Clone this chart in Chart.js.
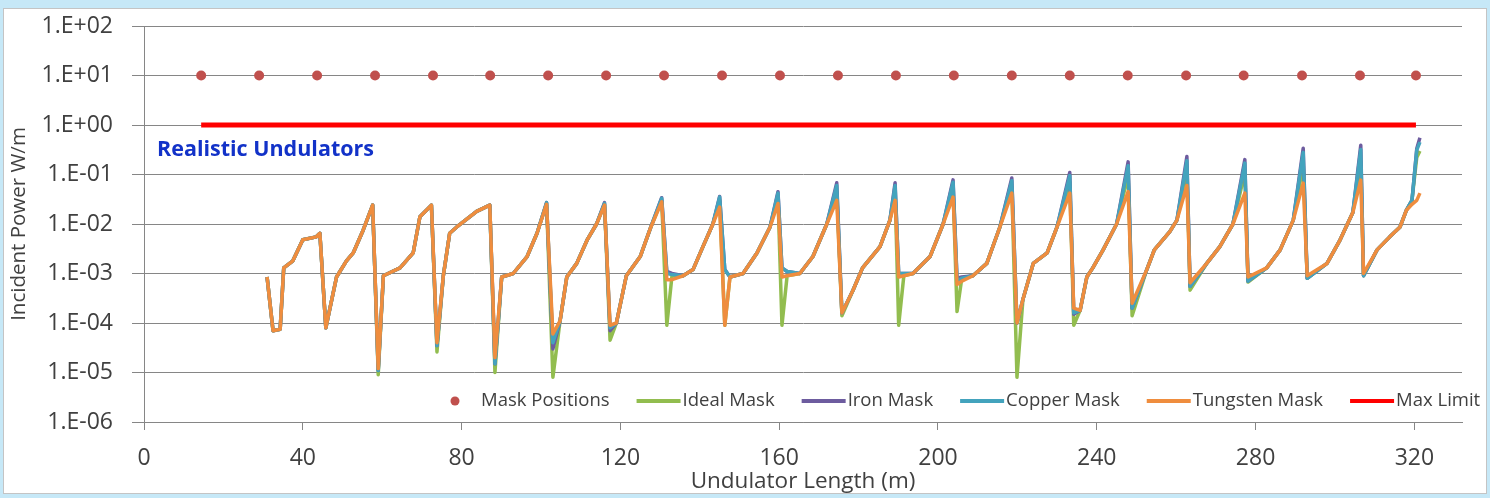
<!DOCTYPE html>
<html>
<head>
<meta charset="utf-8">
<title>Incident Power - Realistic Undulators</title>
<script src="https://cdn.jsdelivr.net/npm/chart.js@4.4.1/dist/chart.umd.min.js"></script>
<style>
  html, body { margin: 0; padding: 0; }
  body { width: 1490px; height: 498px; background: #c6e8f7; position: relative; overflow: hidden; }
  #frame { position: absolute; left: 3px; top: 8px; width: 1482px; height: 484px; background: #fff; border: 1px solid #c4c4c4; }
  #wrap { position: absolute; left: 0; top: 0; width: 1490px; height: 498px; }
</style>
</head>
<body>
<div id="frame"></div>
<div id="wrap"><canvas id="chart"></canvas></div>
<script>
// undulator length (m) shared by the four mask curves
const lengths = [
  31.0, 32.5, 34.3, 35.2, 37.5, 40.0, 43.4, 44.3, 45.8, 48.5,
  51.0, 52.7, 55.2, 57.6, 59.0, 60.3, 64.5, 67.8, 69.5, 72.4,
  73.8, 75.4, 77.0, 78.8, 83.8, 87.1, 88.4, 90.1, 93.0, 96.5,
  99.0, 101.4, 103.0, 104.8, 106.5, 109.0, 111.6, 114.0, 116.0, 117.4,
  119.0, 121.5, 125.0, 127.5, 130.4, 131.7, 133.0, 135.8, 138.3, 140.8, 143.3,
  145.0, 146.3, 147.6, 150.9, 154.4, 157.7, 159.7, 160.7, 162.0, 165.2, 168.5,
  172.0, 174.5, 175.8, 178.6, 181.0, 185.4, 187.9, 189.2, 190.1, 191.4, 193.7,
  198.0, 201.3, 203.8, 204.8, 206.0, 208.8, 212.3, 215.6, 218.6, 219.9, 221.4,
  224.0, 227.5, 230.0, 233.2, 234.2, 235.8, 237.5, 239.0, 241.6, 245.0,
  247.9, 248.9, 252.6, 254.5, 258.4, 260.2, 262.7, 263.5, 267.7, 271.0,
  274.3, 277.3, 278.1, 282.8, 286.2, 289.5, 292.0, 293.0, 298.0, 301.3,
  304.5, 306.5, 307.2, 310.6, 313.8, 316.4, 318.0, 319.4, 320.6, 321.4
];

const idealMask = [
  8.5e-4, 7e-5, 7.5e-5, 1.3e-3, 1.8e-3, 4.8e-3, 5.5e-3, 6.5e-3, 8e-5, 8.5e-4,
  1.8e-3, 2.6e-3, 7.5e-3, 2.4e-2, 9e-6, 9e-4, 1.3e-3, 2.6e-3, 1.4e-2, 2.4e-2,
  2.6e-5, 9e-4, 6.5e-3, 8.7e-3, 1.8e-2, 2.4e-2, 1e-5, 8.5e-4, 1e-3, 2.2e-3,
  6.5e-3, 2.6e-2, 8e-6, 1.1e-4, 8.5e-4, 1.6e-3, 4.7e-3, 1e-2, 2.5e-2, 4.5e-5,
  1e-4, 9e-4, 2.2e-3, 8e-3, 3e-2, 9e-5, 9e-4, 9e-4, 1.2e-3, 3.5e-3, 1e-2,
  3e-2, 9e-5, 8.5e-4, 1e-3, 2.6e-3, 8.7e-3, 3.5e-2, 9e-5, 9e-4, 1e-3, 2.2e-3,
  1e-2, 4.5e-2, 1.4e-4, 4.6e-4, 1.3e-3, 3.5e-3, 1.2e-2, 4.5e-2, 9e-5, 9e-4, 1e-3,
  2.2e-3, 1e-2, 5e-2, 1.7e-4, 8e-4, 9e-4, 1.6e-3, 8.7e-3, 5.5e-2, 8e-6, 3e-4,
  1.6e-3, 2.6e-3, 8.7e-3, 7e-2, 9e-5, 1.8e-4, 8.5e-4, 1.3e-3, 3e-3, 1e-2,
  1e-1, 1.4e-4, 1.2e-3, 3e-3, 7e-3, 1.2e-2, 1.2e-1, 4.6e-4, 1.6e-3, 3.5e-3,
  1e-2, 1.1e-1, 6.7e-4, 1.3e-3, 3e-3, 1.2e-2, 1.6e-1, 8e-4, 1.6e-3, 4.8e-3,
  1.7e-2, 1.8e-1, 9e-4, 3e-3, 5.5e-3, 8.7e-3, 1.9e-2, 3e-2, 2.2e-1, 3e-1
];

const ironMask = [
  8.5e-4, 7e-5, 7.5e-5, 1.3e-3, 1.8e-3, 4.8e-3, 5.5e-3, 6.5e-3, 8e-5, 8.5e-4,
  1.8e-3, 2.6e-3, 7.5e-3, 2.4e-2, 1.1e-5, 9e-4, 1.3e-3, 2.6e-3, 1.4e-2, 2.4e-2,
  3.5e-5, 9e-4, 6.5e-3, 8.7e-3, 1.8e-2, 2.4e-2, 1.5e-5, 8.5e-4, 1e-3, 2.2e-3,
  6.5e-3, 2.7e-2, 3e-5, 1.1e-4, 8.5e-4, 1.6e-3, 4.7e-3, 1e-2, 2.7e-2, 7e-5,
  1e-4, 9e-4, 2.2e-3, 8e-3, 3.4e-2, 1.1e-3, 1e-3, 9e-4, 1.2e-3, 3.5e-3, 1e-2,
  3.6e-2, 1.2e-3, 8.5e-4, 1e-3, 2.6e-3, 8.7e-3, 4.5e-2, 1.3e-3, 1.1e-3, 1e-3, 2.2e-3,
  1e-2, 6.8e-2, 1.6e-4, 4.6e-4, 1.3e-3, 3.5e-3, 1.2e-2, 6.8e-2, 1e-3, 1e-3, 1e-3,
  2.2e-3, 1e-2, 7.8e-2, 8e-4, 8.5e-4, 9e-4, 1.6e-3, 8.7e-3, 8.5e-2, 1e-4, 3e-4,
  1.6e-3, 2.6e-3, 8.7e-3, 1.1e-1, 1.5e-4, 1.8e-4, 8.5e-4, 1.3e-3, 3e-3, 1e-2,
  1.8e-1, 2e-4, 1.2e-3, 3e-3, 7e-3, 1.2e-2, 2.3e-1, 5.5e-4, 1.6e-3, 3.5e-3,
  1e-2, 2e-1, 7e-4, 1.3e-3, 3e-3, 1.2e-2, 3.4e-1, 8e-4, 1.6e-3, 4.8e-3,
  1.7e-2, 3.9e-1, 9e-4, 3e-3, 5.5e-3, 8.7e-3, 1.9e-2, 3e-2, 3.3e-1, 5.5e-1
];

const copperMask = [
  8.5e-4, 7e-5, 7.5e-5, 1.3e-3, 1.8e-3, 4.8e-3, 5.5e-3, 6.5e-3, 8e-5, 8.5e-4,
  1.8e-3, 2.6e-3, 7.5e-3, 2.4e-2, 1.1e-5, 9e-4, 1.3e-3, 2.6e-3, 1.4e-2, 2.4e-2,
  3.5e-5, 9e-4, 6.5e-3, 8.7e-3, 1.8e-2, 2.4e-2, 1.5e-5, 8.5e-4, 1e-3, 2.2e-3,
  6.5e-3, 2.7e-2, 4e-5, 1.1e-4, 8.5e-4, 1.6e-3, 4.7e-3, 1e-2, 2.6e-2, 8e-5,
  1e-4, 9e-4, 2.2e-3, 8e-3, 3.3e-2, 1e-3, 9.5e-4, 9e-4, 1.2e-3, 3.5e-3, 1e-2,
  3.5e-2, 1.2e-3, 8.5e-4, 1e-3, 2.6e-3, 8.7e-3, 4.2e-2, 1.3e-3, 1.1e-3, 1e-3, 2.2e-3,
  1e-2, 6e-2, 1.6e-4, 4.6e-4, 1.3e-3, 3.5e-3, 1.2e-2, 6e-2, 1e-3, 1e-3, 1e-3,
  2.2e-3, 1e-2, 7e-2, 7e-4, 8e-4, 9e-4, 1.6e-3, 8.7e-3, 7.5e-2, 1e-4, 3e-4,
  1.6e-3, 2.6e-3, 8.7e-3, 9.5e-2, 1.6e-4, 1.8e-4, 8.5e-4, 1.3e-3, 3e-3, 1e-2,
  1.5e-1, 2e-4, 1.2e-3, 3e-3, 7e-3, 1.2e-2, 1.9e-1, 5.5e-4, 1.6e-3, 3.5e-3,
  1e-2, 1.7e-1, 7e-4, 1.3e-3, 3e-3, 1.2e-2, 2.8e-1, 8e-4, 1.6e-3, 4.8e-3,
  1.7e-2, 3.2e-1, 9e-4, 3e-3, 5.5e-3, 8.7e-3, 1.9e-2, 3e-2, 3.1e-1, 4.5e-1
];

const tungstenMask = [
  8.5e-4, 7e-5, 7.5e-5, 1.3e-3, 1.8e-3, 4.8e-3, 5.5e-3, 6.5e-3, 8e-5, 8.5e-4,
  1.8e-3, 2.6e-3, 7.5e-3, 2.4e-2, 1.2e-5, 9e-4, 1.3e-3, 2.6e-3, 1.4e-2, 2.4e-2,
  4e-5, 9e-4, 6.5e-3, 8.7e-3, 1.8e-2, 2.4e-2, 2e-5, 8.5e-4, 1e-3, 2.2e-3,
  6.5e-3, 2.5e-2, 6e-5, 1.1e-4, 8.5e-4, 1.6e-3, 4.7e-3, 1e-2, 2.4e-2, 9e-5,
  1e-4, 9e-4, 2.2e-3, 8e-3, 2.8e-2, 7.5e-4, 7.5e-4, 9e-4, 1.2e-3, 3.5e-3, 1e-2,
  2.2e-2, 9e-5, 8.5e-4, 1e-3, 2.6e-3, 8.7e-3, 2.6e-2, 8.5e-4, 9e-4, 1e-3, 2.2e-3,
  1e-2, 3e-2, 1.6e-4, 4.6e-4, 1.3e-3, 3.5e-3, 1.2e-2, 3e-2, 8.5e-4, 9e-4, 1e-3,
  2.2e-3, 1e-2, 3.5e-2, 6e-4, 7e-4, 9e-4, 1.6e-3, 8.7e-3, 4.2e-2, 1e-4, 3e-4,
  1.6e-3, 2.6e-3, 8.7e-3, 4.2e-2, 2e-4, 1.8e-4, 8.5e-4, 1.3e-3, 3e-3, 1e-2,
  4.5e-2, 2.5e-4, 1.2e-3, 3e-3, 7e-3, 1.2e-2, 6e-2, 6.5e-4, 1.6e-3, 3.5e-3,
  1e-2, 4.2e-2, 8.5e-4, 1.3e-3, 3e-3, 1.2e-2, 6.7e-2, 9e-4, 1.6e-3, 4.8e-3,
  1.7e-2, 7.7e-2, 1e-3, 3e-3, 5.5e-3, 8.7e-3, 1.9e-2, 2.5e-2, 3e-2, 4.2e-2
];

// mask positions along the line (plotted at 10 W/m)
const maskPositions = [
  14.4, 29.0, 43.6, 58.2, 72.8, 87.2, 101.8, 116.4, 131.0, 145.6, 160.2,
  174.8, 189.4, 204.0, 218.6, 233.2, 247.8, 262.5, 277.0, 291.7, 306.3, 320.4
];
const maskLevels = [10, 10, 10, 10, 10, 10, 10, 10, 10, 10, 10, 10, 10, 10, 10, 10, 10, 10, 10, 10, 10, 10];

const maxLimitX = [14.4, 320.4];
const maxLimitY = [1, 1];

const xTickValues = [0, 40, 80, 120, 160, 200, 240, 280, 320];
const yTickValues = [1e-6, 1e-5, 1e-4, 1e-3, 1e-2, 1e-1, 1e0, 1e1, 1e2];

const pts = (xs, ys) => xs.map((x, i) => ({x: x, y: ys[i]}));

// "1.E+02" style labels
function sciLabel(v) {
  const e = Math.round(Math.log10(v));
  return '1.E' + (e < 0 ? '-' : '+') + String(Math.abs(e)).padStart(2, '0');
}

Chart.defaults.font.family = '"Open Sans", "Liberation Sans", sans-serif';
Chart.defaults.color = '#404040';

const gridGrey = '#868686';

// legend drawn inside the plot, along the bottom
const insideLegend = {
  id: 'insideLegend',
  afterDatasetsDraw(chart) {
    const ctx = chart.ctx;
    const area = chart.chartArea;
    const y = area.bottom - 21;
    let x = area.left + 303;
    ctx.save();
    ctx.font = '18.5px "Open Sans", "Liberation Sans", sans-serif';
    ctx.textBaseline = 'middle';
    chart.data.datasets.forEach(ds => {
      if (ds.showLine === false) {
        ctx.fillStyle = ds.backgroundColor;
        ctx.beginPath();
        ctx.arc(x + 8, y, 4.5, 0, Math.PI * 2);
        ctx.fill();
        x += 34;
      } else {
        ctx.strokeStyle = ds.borderColor;
        ctx.lineWidth = 4;
        ctx.beginPath();
        ctx.moveTo(x, y);
        ctx.lineTo(x + 44, y);
        ctx.stroke();
        x += 46;
      }
      ctx.fillStyle = '#404040';
      ctx.fillText(ds.label, x, y);
      x += ctx.measureText(ds.label).width + 27;
    });
    ctx.restore();
  }
};

// blue note in the upper left of the plot
const noteText = {
  id: 'noteText',
  afterDatasetsDraw(chart) {
    const ctx = chart.ctx;
    const yPix = chart.scales.y.getPixelForValue(0.316);
    ctx.save();
    ctx.font = 'bold 21.5px "Open Sans", "Liberation Sans", sans-serif';
    ctx.fillStyle = '#1232c8';
    ctx.textBaseline = 'middle';
    ctx.fillText('Realistic Undulators', chart.chartArea.left + 13, yPix);
    ctx.restore();
  }
};

const lineSet = (label, ys, colour, order) => ({
  label: label,
  data: pts(lengths, ys),
  showLine: true,
  borderColor: colour,
  backgroundColor: colour,
  borderWidth: 3.5,
  borderJoinStyle: 'round',
  pointRadius: 0,
  order: order
});

new Chart(document.getElementById('chart'), {
  type: 'scatter',
  data: {
    datasets: [
      {
        label: 'Mask Positions',
        data: pts(maskPositions, maskLevels),
        showLine: false,
        pointRadius: 5,
        pointBorderWidth: 0,
        backgroundColor: '#c0504d',
        borderColor: '#c0504d',
        order: 0
      },
      lineSet('Ideal Mask', idealMask, '#92bd4f', 4),
      lineSet('Iron Mask', ironMask, '#6d5c9f', 3),
      lineSet('Copper Mask', copperMask, '#43a3bd', 2),
      lineSet('Tungsten Mask', tungstenMask, '#ef8d3e', 1),
      {
        label: 'Max Limit',
        data: pts(maxLimitX, maxLimitY),
        showLine: true,
        borderColor: '#ff0000',
        backgroundColor: '#ff0000',
        borderWidth: 5,
        pointRadius: 0,
        order: 0
      }
    ]
  },
  options: {
    responsive: true,
    maintainAspectRatio: false,
    animation: false,
    layout: { padding: { top: 26, right: 28, left: 0, bottom: 0 } },
    plugins: {
      legend: { display: false },
      tooltip: { enabled: false }
    },
    scales: {
      x: {
        type: 'linear',
        min: 0,
        max: 332,
        afterBuildTicks: s => { s.ticks = xTickValues.map(v => ({value: v})); },
        afterFit: s => { s.height = 76; },
        ticks: {
          font: { size: 23 },
          color: '#404040',
          padding: 15,
          maxRotation: 0
        },
        grid: {
          drawOnChartArea: false,
          color: gridGrey,
          tickLength: 8
        },
        border: { color: gridGrey },
        title: {
          display: true,
          text: 'Undulator Length (m)',
          font: { size: 22.5 },
          color: '#404040',
          padding: { top: 0, bottom: 3 }
        }
      },
      y: {
        type: 'logarithmic',
        min: 1e-6,
        max: 1e2,
        afterBuildTicks: s => { s.ticks = yTickValues.map(v => ({value: v, major: true})); },
        afterFit: s => { s.width = 144; s.paddingTop = 0; s.paddingBottom = 0; },
        ticks: {
          font: { size: 23 },
          color: '#404040',
          padding: 19,
          callback: v => sciLabel(v)
        },
        grid: {
          color: gridGrey,
          tickLength: 12
        },
        border: { color: gridGrey },
        title: {
          display: true,
          text: 'Incident Power W/m',
          font: { size: 20.5 },
          color: '#404040',
          padding: { top: 7, bottom: 0 }
        }
      }
    }
  },
  plugins: [insideLegend, noteText]
});
</script>
</body>
</html>
